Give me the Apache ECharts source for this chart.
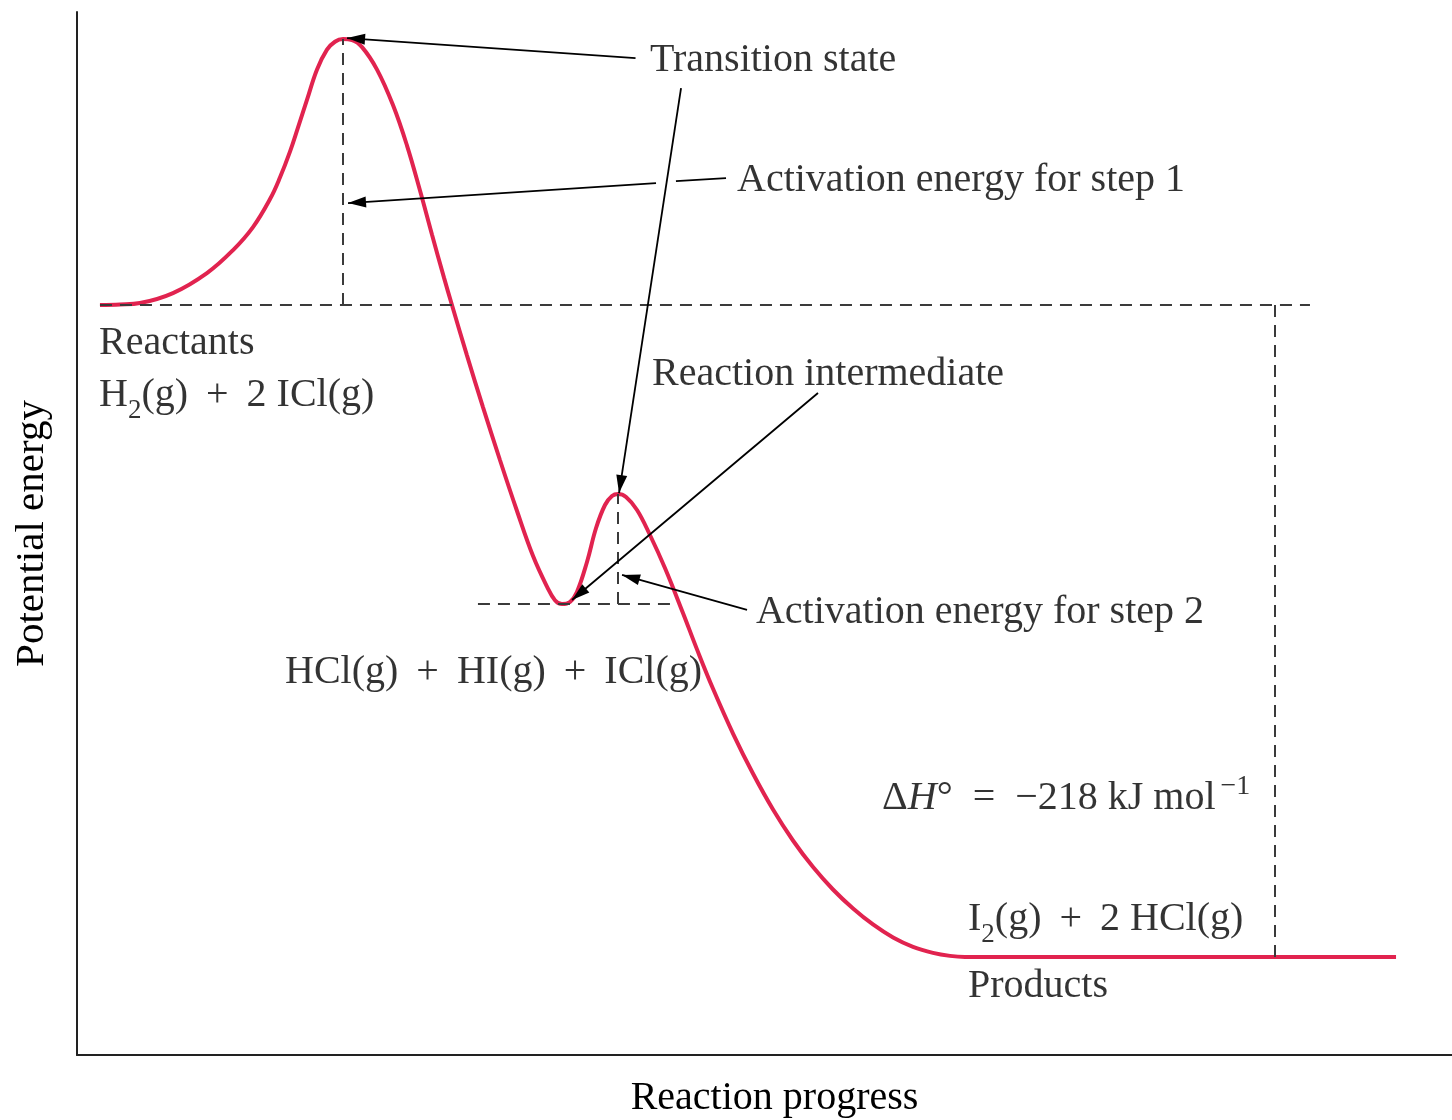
<!DOCTYPE html>
<html><head><meta charset="utf-8">
<script src="https://cdn.jsdelivr.net/npm/echarts@6/dist/echarts.min.js"></script>
<style>html,body{margin:0;padding:0;background:#fff}#c{width:1452px;height:1120px}</style>
</head><body><div id="c"></div>
<script>
// Reaction progress (arbitrary 0-100) and potential energy (kJ/mol, relative to reactants)
const progress = [1.67, 3.13, 4.58, 6.98, 9.45, 11.35, 12.80, 14.04, 14.76, 15.49, 16.07, 16.73,
  17.45, 18.18, 18.76, 19.35, 20.00, 20.73, 21.82, 22.98, 24.00, 24.95, 25.82, 26.69, 27.27,
  28.36, 29.53, 30.76, 32.00, 33.16, 34.18, 34.76, 35.27, 35.85, 36.36, 37.09, 37.75, 38.40,
  38.91, 39.35, 39.93, 40.73, 41.67, 42.76, 44.07, 45.09, 46.25, 47.71, 49.16, 50.62, 52.07,
  53.53, 54.98, 56.44, 57.89, 59.35, 60.80, 62.25, 63.49, 64.58, 95.93];
const energy = [0, 0.17, 0.67, 4.01, 10.70, 18.39, 26.08, 35.44, 42.63, 51.32, 59.35, 68.67,
  78.70, 85.39, 88.06, 88.93, 88.60, 86.26, 78.74, 66.87, 53.33, 38.21, 23.50, 9.16, 0,
  -16.82, -34.20, -51.82, -68.87, -83.85, -94.15, -98.70, -100.0, -99.30, -95.95, -85.92, -74.56, -66.87,
  -63.86, -63.2, -64.19, -68.54, -76.90, -87.93, -102.98, -115.15, -128.25, -143.30, -156.67, -168.71, -179.07,
  -187.96, -195.45, -201.81, -207.15, -211.50, -214.64, -216.65, -217.65, -218, -218];

// Key levels (kJ/mol) and where they occur along the reaction progress
const levelNames = ['Reactants', 'Transition state 1', 'Intermediate', 'Transition state 2', 'Products'];
const levelValues = [0, 88.93, -100, -63.2, -218];
const levelProgress = [1.67, 19.35, 35.27, 39.35, 95.93];

// Annotation texts
const annotationTexts = [
  'Transition state',
  'Activation energy for step 1',
  'Reactants',
  '{n|H}{sub|2}{n|(g) \u2009+\u2009 2 ICl(g)}',
  'Reaction intermediate',
  'Activation energy for step 2',
  'HCl(g) \u2009+\u2009 HI(g) \u2009+\u2009 ICl(g)',
  '{n|\u0394}{it|H}{n|\u00b0  =  \u2212218 kJ mol}{sup|\u22121}',
  '{n|I}{sub|2}{n|(g) \u2009+\u2009 2 HCl(g)}',
  'Products'
];
const annotationX = [41.67, 48.0, 1.6, 1.6, 41.82, 49.38, 15.13, 58.55, 64.8, 64.8];
const annotationY = [81.8, 41.6, -13.0, -30.3, -23.2, -102.9, -123.0, -164.9, -205.6, -228.0];

// Arrows (from -> to), in data coordinates
const arrowFrom = [[40.62, 82.58], [43.93, 72.55], [42.11, 40.79], [47.2, 42.46], [53.89, -29.42], [48.73, -101.97]];
const arrowTo   = [[19.64, 89.27], [39.42, -62.86], [19.71, 34.10], [43.56, 41.46], [36.0, -98.63], [39.64, -90.27]];
const arrowHead = [true, true, true, false, true, true];

const FONT = 'Liberation Serif';
const INK = '#000';

const guides = [
  [[levelProgress[0], levelValues[0]], [89.67, levelValues[0]]],
  [[levelProgress[1], levelValues[0]], [levelProgress[1], levelValues[1]]],
  [[29.16, levelValues[2]], [43.27, levelValues[2]]],
  [[levelProgress[3], levelValues[2]], [levelProgress[3], levelValues[3]]],
  [[87.13, levelValues[0]], [87.13, levelValues[4]]]
];

const curve = progress.map((x, i) => [x, energy[i]]);
const labels = annotationTexts.map((t, i) => ({
  value: [annotationX[i], annotationY[i]],
  label: { formatter: t }
}));

const arrowData = arrowFrom.map((f, i) => [
  { coord: f, symbol: 'none' },
  arrowHead[i]
    ? { coord: arrowTo[i], symbol: 'triangle', symbolSize: [11, 18], symbolOffset: [0, 9] }
    : { coord: arrowTo[i], symbol: 'none' }
]);

const guideData = guides.map(g => [{ coord: g[0] }, { coord: g[1] }]);

const chart = echarts.init(document.getElementById('c'), null, { renderer: 'canvas' });
chart.setOption({
  animation: false,
  backgroundColor: '#fff',
  textStyle: { fontFamily: FONT },
  grid: { left: 77, right: 0, top: 12, bottom: 65, containLabel: false, outerBoundsMode: 'none' },
  xAxis: {
    type: 'value', min: 0, max: 100,
    name: 'Reaction progress', nameLocation: 'middle', nameGap: 23,
    nameTextStyle: { fontFamily: FONT, fontSize: 40, color: INK, padding: [0, 0, 0, 20] },
    axisLine: { onZero: false, lineStyle: { color: '#222', width: 2 } },
    axisTick: { show: false }, axisLabel: { show: false }, splitLine: { show: false }
  },
  yAxis: {
    type: 'value', min: -250.8, max: 98,
    name: 'Potential energy', nameLocation: 'middle', nameGap: 24,
    nameTextStyle: { fontFamily: FONT, fontSize: 41, color: INK },
    axisLine: { show: true, onZero: false, lineStyle: { color: '#222', width: 2 } },
    axisTick: { show: false }, axisLabel: { show: false }, splitLine: { show: false }
  },
  series: [
    {
      type: 'scatter', name: 'labels', z: 1, silent: true,
      symbolSize: 0, data: labels,
      label: {
        show: true, position: 'right', distance: 0,
        fontFamily: FONT, fontSize: 40, color: INK,
        rich: {
          n: { fontFamily: FONT, fontSize: 40, color: INK, lineHeight: 60, verticalAlign: 'middle' },
          it: { fontFamily: FONT, fontSize: 40, color: INK, fontStyle: 'italic', lineHeight: 60, verticalAlign: 'middle' },
          sub: { fontFamily: FONT, fontSize: 27, color: INK, lineHeight: 27, verticalAlign: 'top', padding: [32, 0, 0, 0] },
          sup: { fontFamily: FONT, fontSize: 28, color: INK, lineHeight: 28, verticalAlign: 'top', padding: [5, 0, 0, 5] }
        }
      },
      markLine: {
        silent: true, symbol: ['none', 'none'], label: { show: false },
        lineStyle: { color: '#3a3a3a', width: 2, type: [12, 8] },
        emphasis: { disabled: true },
        data: guideData
      }
    },
    {
      type: 'line', name: 'Potential energy', z: 3, silent: true,
      data: curve, smooth: 0.4, showSymbol: false,
      lineStyle: { color: '#e1234f', width: 4 },
      markLine: {
        silent: true, label: { show: false },
        lineStyle: { color: INK, width: 1.8, type: 'solid' },
        itemStyle: { color: INK },
        emphasis: { disabled: true },
        data: arrowData
      }
    }
  ]
});
</script></body></html>
